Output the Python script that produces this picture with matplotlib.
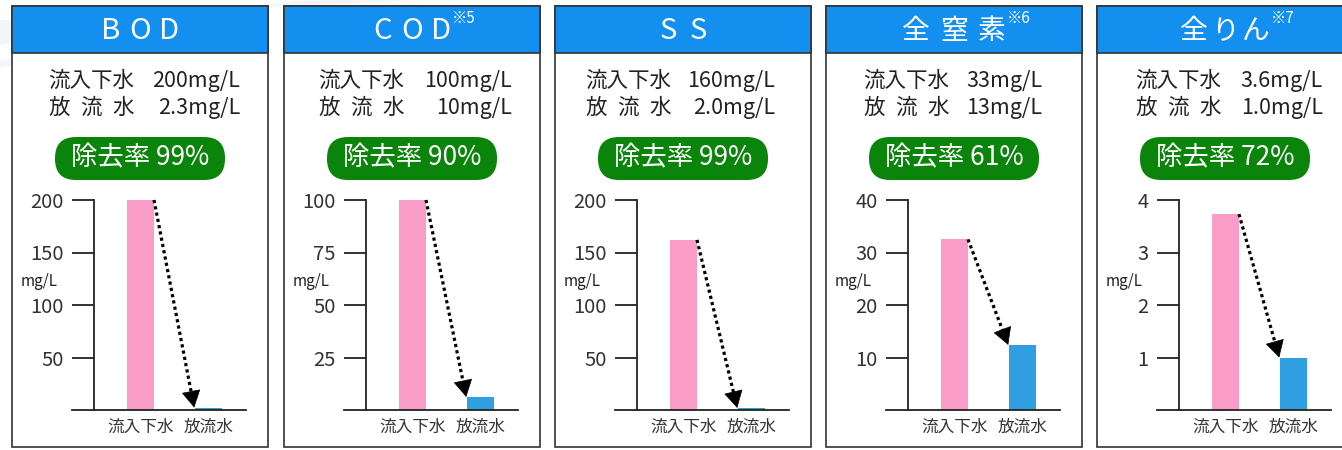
import matplotlib
matplotlib.use("Agg")
import numpy as np
import matplotlib.pyplot as plt
from matplotlib.patches import Rectangle, FancyBboxPatch, Polygon

plt.rcParams['font.family'] = ['Noto Sans CJK JP', 'DejaVu Sans']

# ---------------- data ----------------
titles = ["BOD", "COD", "SS", "全窒素", "全りん"]
title_notes = ["", "※5", "", "※6", "※7"]
inflow_text = ["200mg/L", "100mg/L", "160mg/L", "33mg/L", "3.6mg/L"]
outflow_text = ["2.3mg/L", "10mg/L", "2.0mg/L", "13mg/L", "1.0mg/L"]
removal_text = ["除去率 99%", "除去率 90%", "除去率 99%", "除去率 61%", "除去率 72%"]
inflow_values = [200, 100, 162, 32.5, 3.73]
outflow_values = [2.3, 6.2, 2.0, 12.4, 1.0]
y_max = [200, 100, 200, 40, 4]
y_ticks = [[50, 100, 150, 200], [25, 50, 75, 100], [50, 100, 150, 200],
           [10, 20, 30, 40], [1, 2, 3, 4]]
categories = ["流入下水", "放流水"]
unit_label = "mg/L"
row1_label = "流入下水"
row2_chars = ["放", "流", "水"]

# ---------------- layout (pixels) ----------------
W, H = 1342, 450
panel_left = [12, 284, 555, 826, 1097]
panel_w = 256
box_top, box_bottom = 6, 447
header_bottom = 53
value_right = [228, 228, 220, 216, 226]
label_left = [36, 34, 30, 37, 38]
title_pitch = [29, 29, 30, 38, 31]
title_size = [21, 21, 21, 20, 20]

HEADER_BLUE = "#1390ef"
GREEN = "#0a840a"
PINK = "#f99cc8"
BLUE = "#2f9fe2"
TEXT = "#222222"
FS = 15.5
EM = FS * 100 / 72.0

fig = plt.figure(figsize=(W / 100, H / 100), dpi=100)
bg = fig.add_axes([0, 0, 1, 1])
bg.set_xlim(0, W)
bg.set_ylim(H, 0)
bg.axis("off")
bg.set_zorder(0)

# faint background streaks
bg.add_patch(Polygon([[0, 45], [300, 0], [420, 0], [0, 20]], closed=True,
                     facecolor="#f1f6fb", edgecolor="none", zorder=0))
bg.add_patch(Polygon([[0, 60], [200, 30], [220, 30], [0, 68]], closed=True,
                     facecolor="#f4f8fc", edgecolor="none", zorder=0))

for i in range(5):
    L = panel_left[i]
    cx = L + panel_w / 2
    # box
    bg.add_patch(Rectangle((L, box_top), panel_w, box_bottom - box_top,
                           facecolor="white", edgecolor="#333333", lw=1.2, zorder=1))
    bg.add_patch(Rectangle((L, box_top), panel_w, header_bottom - box_top,
                           facecolor=HEADER_BLUE, edgecolor="#333333", lw=1.2, zorder=2))
    chars = list(titles[i])
    n = len(chars)
    last = None
    for k, ch in enumerate(chars):
        x = cx + (k - (n - 1) / 2) * title_pitch[i]
        last = bg.text(x, 31, ch, color="white", fontsize=title_size[i],
                       ha="center", va="center", zorder=3)
    if title_notes[i]:
        bg.annotate(title_notes[i], xy=(1.0, 0.93), xycoords=last, xytext=(0.5, 0),
                    textcoords="offset points", color="white", fontsize=11,
                    ha="left", va="center", zorder=3)
    # info rows
    x0 = L + label_left[i]
    bg.text(x0, 81, row1_label, color=TEXT, fontsize=FS,
            ha="left", va="center", zorder=3)
    for ch, pos in zip(row2_chars, [0.5, 2.0, 3.5]):
        bg.text(x0 + pos * EM, 108, ch, color=TEXT, fontsize=FS,
                ha="center", va="center", zorder=3)
    bg.text(L + value_right[i], 81, inflow_text[i], color=TEXT, fontsize=FS,
            ha="right", va="center", zorder=3)
    bg.text(L + value_right[i], 108, outflow_text[i], color=TEXT, fontsize=FS,
            ha="right", va="center", zorder=3)
    # pill
    bg.add_patch(FancyBboxPatch((L + 43, 137), 170, 43,
                                boxstyle="round,pad=0,rounding_size=21",
                                facecolor=GREEN, edgecolor="none", zorder=2))
    bg.text(cx, 158, removal_text[i], color="white", fontsize=19,
            ha="center", va="center", zorder=3)
    # unit label
    bg.text(L + 27, 282, unit_label, color=TEXT, fontsize=11,
            ha="center", va="center", zorder=3)

    # chart axes
    ax_left = L + 82
    ax_w = 152
    ax_top, ax_bot = 200, 410
    ax_h = ax_bot - ax_top
    ax = fig.add_axes([ax_left / W, 1 - ax_bot / H, ax_w / W, ax_h / H])
    ax.set_zorder(5)
    ax.patch.set_alpha(0)
    unit = 68.0
    xl = -46.5 / unit
    ax.set_xlim(xl, xl + ax_w / unit)
    ax.set_ylim(0, y_max[i])
    bw = 27 / unit
    ax.bar([0, 1], [inflow_values[i], outflow_values[i]], width=bw,
           color=[PINK, BLUE], zorder=2)
    for s in ["top", "right", "bottom"]:
        ax.spines[s].set_visible(False)
    ax.spines["left"].set_color("#222222")
    ax.spines["left"].set_linewidth(1.3)
    ax.plot([-22 / ax_w, 1.0], [0, 0], transform=ax.transAxes, color="#222222",
            lw=1.3, clip_on=False, zorder=3)
    ax.set_yticks(y_ticks[i])
    ax.set_yticklabels([str(v) for v in y_ticks[i]], fontsize=14.5, color="#333333")
    ax.tick_params(axis="y", direction="out", length=15.8, width=1.3,
                   color="#222222", pad=6)
    ax.set_xticks([0, 1])
    ax.set_xticklabels(categories, fontsize=12, color="#333333")
    ax.tick_params(axis="x", length=0, pad=6)

    # dotted arrow from inflow bar top to outflow bar
    sx, sy = bw / 2, inflow_values[i]
    tx, ty = 0.79, outflow_values[i]
    ypx = ax_h / y_max[i]
    dxp, dyp = (tx - sx) * unit, (ty - sy) * ypx
    d = np.hypot(dxp, dyp)
    hl = 15.0
    hx = tx - dxp / d * hl / unit
    hy = ty - dyp / d * hl / ypx
    ax.plot([sx, hx], [sy, hy], color="black", lw=2.3, linestyle=(0, (1, 1)),
            dash_capstyle="butt", zorder=4, clip_on=False)
    ax.annotate("", xy=(tx, ty), xytext=(hx, hy),
                arrowprops=dict(arrowstyle="-|>,head_length=0.75,head_width=0.42",
                                lw=0.5, color="black", shrinkA=0, shrinkB=0,
                                mutation_scale=15),
                zorder=4, annotation_clip=False)

fig.savefig("out.png", dpi=100)
